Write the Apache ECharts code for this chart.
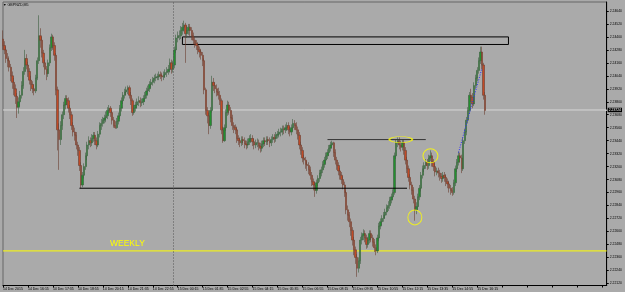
<!DOCTYPE html>
<html>
<head>
<meta charset="utf-8">
<script src="https://cdn.jsdelivr.net/npm/echarts@6/dist/echarts.min.js"></script>
<style>
  html, body { margin: 0; padding: 0; background: #aaaaaa; }
  #chart { width: 625px; height: 292px; }
</style>
</head>
<body>
<div id="chart"></div>
<script>
// GBPNZD M5, 14 Dec 2015 14:55 .. 15 Dec 16:40, rows are [open, close, low, high]
const candles = [
  [2.2438,2.2432,2.2428,2.2446],[2.2432,2.2428,2.2424,2.2436],[2.2428,2.2420,2.2416,2.2431],[2.2420,2.2418,2.2412,2.2425],
  [2.2418,2.2412,2.2408,2.2422],[2.2412,2.2404,2.2399,2.2415],[2.2404,2.2398,2.2392,2.2408],[2.2398,2.2392,2.2386,2.2402],
  [2.2392,2.2385,2.2378,2.2396],[2.2385,2.2375,2.2365,2.2388],[2.2375,2.2380,2.2369,2.2384],[2.2380,2.2386,2.2376,2.2390],
  [2.2386,2.2395,2.2383,2.2399],[2.2395,2.2408,2.2392,2.2412],[2.2408,2.2420,2.2405,2.2428],[2.2420,2.2414,2.2410,2.2424],
  [2.2414,2.2408,2.2403,2.2417],[2.2408,2.2400,2.2396,2.2411],[2.2400,2.2396,2.2390,2.2404],[2.2396,2.2392,2.2388,2.2399],
  [2.2392,2.2390,2.2386,2.2396],[2.2390,2.2402,2.2388,2.2405],[2.2402,2.2418,2.2400,2.2421],[2.2418,2.2441,2.2415,2.2460],
  [2.2441,2.2437,2.2430,2.2448],[2.2437,2.2425,2.2421,2.2440],[2.2425,2.2416,2.2412,2.2428],[2.2416,2.2410,2.2405,2.2419],
  [2.2410,2.2406,2.2400,2.2413],[2.2406,2.2416,2.2403,2.2419],[2.2416,2.2430,2.2413,2.2433],[2.2430,2.2440,2.2427,2.2443],
  [2.2440,2.2432,2.2428,2.2442],[2.2432,2.2423,2.2418,2.2435],[2.2423,2.2391,2.2386,2.2425],[2.2391,2.2354,2.2335,2.2394],
  [2.2354,2.2345,2.2317,2.2360],[2.2345,2.2358,2.2340,2.2362],[2.2358,2.2368,2.2354,2.2371],[2.2368,2.2377,2.2364,2.2380],
  [2.2377,2.2383,2.2373,2.2386],[2.2383,2.2381,2.2377,2.2386],[2.2381,2.2374,2.2370,2.2384],[2.2374,2.2368,2.2364,2.2377],
  [2.2368,2.2358,2.2354,2.2371],[2.2358,2.2352,2.2348,2.2361],[2.2352,2.2349,2.2344,2.2356],[2.2349,2.2340,2.2336,2.2352],
  [2.2340,2.2335,2.2330,2.2343],[2.2335,2.2321,2.2316,2.2338],[2.2321,2.2303,2.2300,2.2324],[2.2303,2.2312,2.2301,2.2315],
  [2.2312,2.2320,2.2309,2.2323],[2.2320,2.2330,2.2317,2.2333],[2.2330,2.2340,2.2326,2.2343],[2.2340,2.2344,2.2336,2.2348],
  [2.2344,2.2342,2.2338,2.2347],[2.2342,2.2346,2.2339,2.2350],[2.2346,2.2349,2.2343,2.2352],[2.2349,2.2344,2.2340,2.2352],
  [2.2344,2.2340,2.2336,2.2347],[2.2340,2.2350,2.2338,2.2353],[2.2350,2.2358,2.2347,2.2361],[2.2358,2.2360,2.2354,2.2364],
  [2.2360,2.2363,2.2357,2.2366],[2.2363,2.2365,2.2360,2.2368],[2.2365,2.2367,2.2361,2.2371],[2.2367,2.2372,2.2364,2.2375],
  [2.2372,2.2374,2.2369,2.2377],[2.2374,2.2370,2.2366,2.2376],[2.2370,2.2363,2.2359,2.2372],[2.2363,2.2358,2.2356,2.2366],
  [2.2358,2.2356,2.2355,2.2362],[2.2356,2.2362,2.2355,2.2365],[2.2362,2.2367,2.2359,2.2370],[2.2367,2.2374,2.2364,2.2377],
  [2.2374,2.2381,2.2371,2.2384],[2.2381,2.2386,2.2378,2.2389],[2.2386,2.2389,2.2383,2.2392],[2.2389,2.2391,2.2386,2.2394],
  [2.2391,2.2393,2.2387,2.2395],[2.2393,2.2386,2.2383,2.2395],[2.2386,2.2381,2.2377,2.2389],[2.2381,2.2370,2.2367,2.2383],
  [2.2370,2.2374,2.2368,2.2377],[2.2374,2.2377,2.2371,2.2380],[2.2377,2.2380,2.2374,2.2383],[2.2380,2.2381,2.2376,2.2385],
  [2.2381,2.2379,2.2375,2.2384],[2.2379,2.2380,2.2376,2.2383],[2.2380,2.2383,2.2377,2.2386],[2.2383,2.2386,2.2380,2.2389],
  [2.2386,2.2390,2.2383,2.2393],[2.2390,2.2392,2.2387,2.2395],[2.2392,2.2396,2.2389,2.2399],[2.2396,2.2398,2.2393,2.2401],
  [2.2398,2.2400,2.2395,2.2403],[2.2400,2.2402,2.2397,2.2405],[2.2402,2.2403,2.2399,2.2406],[2.2403,2.2403,2.2400,2.2406],
  [2.2403,2.2405,2.2400,2.2408],[2.2405,2.2404,2.2401,2.2408],[2.2404,2.2403,2.2399,2.2407],[2.2403,2.2405,2.2400,2.2408],
  [2.2405,2.2407,2.2402,2.2410],[2.2407,2.2408,2.2403,2.2412],[2.2408,2.2410,2.2405,2.2414],[2.2410,2.2416,2.2407,2.2420],
  [2.2416,2.2410,2.2406,2.2419],[2.2410,2.2414,2.2407,2.2418],[2.2414,2.2428,2.2411,2.2431],[2.2428,2.2439,2.2425,2.2442],
  [2.2439,2.2441,2.2435,2.2445],[2.2441,2.2441,2.2437,2.2446],[2.2441,2.2446,2.2438,2.2450],[2.2446,2.2449,2.2442,2.2453],
  [2.2449,2.2451,2.2445,2.2455],[2.2451,2.2443,2.2416,2.2453],[2.2443,2.2446,2.2439,2.2450],[2.2446,2.2449,2.2442,2.2452],
  [2.2449,2.2446,2.2441,2.2452],[2.2446,2.2441,2.2437,2.2449],[2.2441,2.2437,2.2433,2.2444],[2.2437,2.2434,2.2430,2.2440],
  [2.2434,2.2432,2.2428,2.2437],[2.2432,2.2428,2.2424,2.2435],[2.2428,2.2426,2.2421,2.2431],[2.2426,2.2423,2.2419,2.2429],
  [2.2423,2.2418,2.2413,2.2426],[2.2418,2.2391,2.2387,2.2420],[2.2391,2.2372,2.2368,2.2393],[2.2372,2.2367,2.2360,2.2375],
  [2.2367,2.2358,2.2350,2.2370],[2.2358,2.2372,2.2355,2.2375],[2.2372,2.2398,2.2370,2.2404],[2.2398,2.2395,2.2390,2.2402],
  [2.2395,2.2392,2.2388,2.2398],[2.2392,2.2389,2.2385,2.2396],[2.2389,2.2386,2.2382,2.2393],[2.2386,2.2381,2.2377,2.2390],
  [2.2381,2.2354,2.2350,2.2383],[2.2354,2.2344,2.2342,2.2357],[2.2344,2.2356,2.2343,2.2359],[2.2356,2.2370,2.2353,2.2373],
  [2.2370,2.2377,2.2367,2.2381],[2.2377,2.2372,2.2368,2.2380],[2.2372,2.2365,2.2361,2.2375],[2.2365,2.2358,2.2354,2.2368],
  [2.2358,2.2356,2.2351,2.2361],[2.2356,2.2354,2.2350,2.2359],[2.2354,2.2346,2.2342,2.2357],[2.2346,2.2344,2.2340,2.2349],
  [2.2344,2.2342,2.2338,2.2347],[2.2342,2.2345,2.2339,2.2348],[2.2345,2.2344,2.2340,2.2348],[2.2344,2.2341,2.2337,2.2347],
  [2.2341,2.2340,2.2336,2.2344],[2.2340,2.2343,2.2337,2.2346],[2.2343,2.2346,2.2340,2.2349],[2.2346,2.2346,2.2342,2.2350],
  [2.2346,2.2343,2.2339,2.2349],[2.2343,2.2340,2.2336,2.2346],[2.2340,2.2342,2.2337,2.2345],[2.2342,2.2342,2.2338,2.2346],
  [2.2342,2.2339,2.2335,2.2345],[2.2339,2.2337,2.2333,2.2342],[2.2337,2.2341,2.2334,2.2344],[2.2341,2.2344,2.2338,2.2347],
  [2.2344,2.2343,2.2339,2.2347],[2.2343,2.2345,2.2340,2.2348],[2.2345,2.2344,2.2340,2.2348],[2.2344,2.2342,2.2338,2.2347],
  [2.2342,2.2345,2.2339,2.2348],[2.2345,2.2347,2.2342,2.2350],[2.2347,2.2346,2.2342,2.2350],[2.2346,2.2349,2.2343,2.2352],
  [2.2349,2.2350,2.2346,2.2353],[2.2350,2.2352,2.2347,2.2355],[2.2352,2.2352,2.2348,2.2356],[2.2352,2.2355,2.2349,2.2358],
  [2.2355,2.2354,2.2350,2.2358],[2.2354,2.2356,2.2351,2.2359],[2.2356,2.2358,2.2353,2.2361],[2.2358,2.2354,2.2350,2.2361],
  [2.2354,2.2352,2.2348,2.2357],[2.2352,2.2356,2.2349,2.2359],[2.2356,2.2360,2.2353,2.2364],[2.2360,2.2358,2.2354,2.2363],
  [2.2358,2.2354,2.2350,2.2361],[2.2354,2.2349,2.2345,2.2357],[2.2349,2.2340,2.2336,2.2352],[2.2340,2.2335,2.2331,2.2343],
  [2.2335,2.2328,2.2324,2.2338],[2.2328,2.2326,2.2322,2.2331],[2.2326,2.2322,2.2318,2.2329],[2.2322,2.2321,2.2316,2.2325],
  [2.2321,2.2317,2.2313,2.2324],[2.2317,2.2312,2.2308,2.2320],[2.2312,2.2306,2.2302,2.2315],[2.2306,2.2303,2.2298,2.2309],
  [2.2303,2.2298,2.2292,2.2306],[2.2298,2.2305,2.2295,2.2308],[2.2305,2.2309,2.2302,2.2312],[2.2309,2.2314,2.2306,2.2317],
  [2.2314,2.2317,2.2311,2.2320],[2.2317,2.2322,2.2314,2.2325],[2.2322,2.2326,2.2319,2.2329],[2.2326,2.2330,2.2323,2.2333],
  [2.2330,2.2333,2.2327,2.2336],[2.2333,2.2337,2.2330,2.2340],[2.2337,2.2340,2.2334,2.2343],[2.2340,2.2342,2.2337,2.2344],
  [2.2342,2.2333,2.2329,2.2343],[2.2333,2.2326,2.2322,2.2336],[2.2326,2.2321,2.2317,2.2329],[2.2321,2.2316,2.2312,2.2324],
  [2.2316,2.2312,2.2308,2.2319],[2.2312,2.2308,2.2304,2.2315],[2.2308,2.2303,2.2299,2.2311],[2.2303,2.2296,2.2292,2.2306],
  [2.2296,2.2280,2.2276,2.2298],[2.2280,2.2275,2.2270,2.2284],[2.2275,2.2269,2.2264,2.2278],[2.2269,2.2261,2.2256,2.2272],
  [2.2261,2.2252,2.2247,2.2264],[2.2252,2.2243,2.2238,2.2255],[2.2243,2.2236,2.2230,2.2246],[2.2236,2.2226,2.2218,2.2239],
  [2.2226,2.2233,2.2222,2.2236],[2.2233,2.2252,2.2230,2.2255],[2.2252,2.2256,2.2248,2.2259],[2.2256,2.2258,2.2252,2.2262],
  [2.2258,2.2254,2.2250,2.2261],[2.2254,2.2248,2.2244,2.2257],[2.2248,2.2252,2.2245,2.2255],[2.2252,2.2258,2.2249,2.2261],
  [2.2258,2.2254,2.2250,2.2261],[2.2254,2.2250,2.2246,2.2257],[2.2250,2.2245,2.2241,2.2253],[2.2245,2.2242,2.2238,2.2248],
  [2.2242,2.2254,2.2240,2.2257],[2.2254,2.2265,2.2251,2.2268],[2.2265,2.2269,2.2262,2.2272],[2.2269,2.2272,2.2266,2.2275],
  [2.2272,2.2275,2.2269,2.2278],[2.2275,2.2278,2.2272,2.2281],[2.2278,2.2282,2.2275,2.2285],[2.2282,2.2284,2.2279,2.2288],
  [2.2284,2.2289,2.2281,2.2292],[2.2289,2.2292,2.2286,2.2295],[2.2292,2.2296,2.2289,2.2299],[2.2296,2.2330,2.2294,2.2333],
  [2.2330,2.2342,2.2327,2.2345],[2.2342,2.2344,2.2338,2.2347],[2.2344,2.2340,2.2336,2.2347],[2.2340,2.2338,2.2334,2.2344],
  [2.2338,2.2342,2.2335,2.2345],[2.2342,2.2335,2.2331,2.2345],[2.2335,2.2326,2.2322,2.2338],[2.2326,2.2318,2.2314,2.2329],
  [2.2318,2.2310,2.2306,2.2321],[2.2310,2.2303,2.2299,2.2313],[2.2303,2.2298,2.2294,2.2306],[2.2298,2.2290,2.2286,2.2301],
  [2.2290,2.2280,2.2270,2.2293],[2.2280,2.2283,2.2276,2.2287],[2.2283,2.2292,2.2280,2.2295],[2.2292,2.2300,2.2289,2.2303],
  [2.2300,2.2312,2.2297,2.2315],[2.2312,2.2318,2.2309,2.2321],[2.2318,2.2321,2.2315,2.2324],[2.2321,2.2324,2.2318,2.2327],
  [2.2324,2.2321,2.2317,2.2327],[2.2321,2.2328,2.2318,2.2331],[2.2328,2.2330,2.2325,2.2335],[2.2330,2.2324,2.2320,2.2333],
  [2.2324,2.2320,2.2316,2.2327],[2.2320,2.2315,2.2311,2.2323],[2.2315,2.2316,2.2312,2.2319],[2.2316,2.2314,2.2310,2.2319],
  [2.2314,2.2311,2.2307,2.2317],[2.2311,2.2309,2.2305,2.2314],[2.2309,2.2312,2.2306,2.2315],[2.2312,2.2310,2.2306,2.2315],
  [2.2310,2.2306,2.2302,2.2313],[2.2306,2.2304,2.2300,2.2309],[2.2304,2.2300,2.2296,2.2307],[2.2300,2.2298,2.2294,2.2303],
  [2.2298,2.2296,2.2293,2.2301],[2.2296,2.2305,2.2294,2.2308],[2.2305,2.2318,2.2302,2.2321],[2.2318,2.2324,2.2315,2.2327],
  [2.2324,2.2330,2.2321,2.2334],[2.2330,2.2328,2.2324,2.2333],[2.2328,2.2318,2.2314,2.2331],[2.2318,2.2344,2.2316,2.2347],
  [2.2344,2.2352,2.2341,2.2355],[2.2352,2.2363,2.2349,2.2366],[2.2363,2.2372,2.2360,2.2375],[2.2372,2.2386,2.2369,2.2389],
  [2.2386,2.2384,2.2380,2.2392],[2.2384,2.2378,2.2374,2.2388],[2.2378,2.2395,2.2376,2.2398],[2.2395,2.2402,2.2392,2.2405],
  [2.2402,2.2409,2.2399,2.2412],[2.2409,2.2418,2.2406,2.2421],[2.2418,2.2426,2.2415,2.2431],[2.2426,2.2414,2.2410,2.2431],
  [2.2414,2.2386,2.2382,2.2416],[2.2386,2.2372,2.2368,2.2389]
];

// labels under the chart, one every 16 bars (80 minutes)
const timeLabels = [
  '14 Dec 2015', '14 Dec 16:15', '14 Dec 17:35', '14 Dec 18:55', '14 Dec 20:15',
  '14 Dec 21:35', '14 Dec 22:55', '15 Dec 00:15', '15 Dec 01:35', '15 Dec 02:55',
  '15 Dec 04:15', '15 Dec 05:35', '15 Dec 06:55', '15 Dec 08:15', '15 Dec 09:35',
  '15 Dec 10:55', '15 Dec 12:15', '15 Dec 13:35', '15 Dec 14:55', '15 Dec 16:15'
];

const yTicks = [
  2.2212, 2.2224, 2.2236, 2.2248, 2.2260, 2.2272, 2.2284, 2.2296, 2.2308, 2.2320, 2.2332,
  2.2344, 2.2356, 2.2368, 2.2380, 2.2392, 2.2404, 2.2416, 2.2428, 2.2440, 2.2452, 2.2464
];

const bidPrice = 2.23724;
const weeklyLevel = 2.2242;
const supportLevel = 2.2300;      // black line under the lows
const resistLevel = 2.2345;       // grey line over the two tops
const zoneTop = 2.2440, zoneBottom = 2.2433;
const daySeparator = 109;         // 15 Dec 00:00
const ellipses = [[255, 2.2345, 23, 6], [274, 2.2330, 15, 14], [264, 2.2273, 14, 15]];
const blueLine = [[292, 2.2333], [307, 2.2411]];

// 310 bars plus empty space on the right (chart shift)
const totalSlots = 388;
const lastSlot = totalSlots - 1;
const cats = [];
const t0 = new Date(2015, 11, 14, 14, 55).getTime();
for (let i = 0; i < totalSlots; i++) {
  const d = new Date(t0 + i * 300000);
  cats.push(d.getDate() + ' ' + d.getHours() + ':' + d.getMinutes());
}

const font = 'Liberation Sans';
const chart = echarts.init(document.getElementById('chart'), null, {renderer: 'canvas'});

function levelLine(points, color, type, z) {
  return {
    type: 'line',
    data: points,
    silent: true,
    symbol: 'none',
    z: z || 3,
    lineStyle: {color: color, width: 1, type: type || 'solid'}
  };
}

chart.setOption({
  backgroundColor: '#aaaaaa',
  animation: false,
  grid: {
    left: 1, right: 17, top: 2, bottom: 6.5,
    show: true, borderColor: '#666', borderWidth: 1, backgroundColor: '#aaaaaa'
  },
  xAxis: {
    type: 'category',
    data: cats,
    boundaryGap: false,
    axisLine: {lineStyle: {color: '#000', width: 1}},
    axisTick: {interval: 15, length: 2, lineStyle: {color: '#000'}},
    axisLabel: {
      interval: 15,
      align: 'left',
      margin: 1.5,
      fontSize: 3.5,
      fontFamily: font,
      color: '#000',
      formatter: (v, i) => timeLabels[i / 16] || ''
    },
    splitLine: {show: false}
  },
  yAxis: {
    type: 'value',
    position: 'right',
    min: 2.22100,
    max: 2.24723,
    axisLine: {show: true, lineStyle: {color: '#000', width: 1}},
    axisTick: {show: true, customValues: yTicks, length: 2, lineStyle: {color: '#000'}},
    axisLabel: {
      customValues: yTicks,
      margin: 3,
      fontSize: 3.4,
      fontFamily: font,
      color: '#000',
      formatter: v => v.toFixed(5)
    },
    splitLine: {show: false}
  },
  graphic: [
    {type: 'text', left: 3, top: 2.5, style: {text: '\u25BC GBPNZD,M5', font: '3.6px ' + font, fill: '#000'}},
    {type: 'text', left: 110, top: 239, style: {text: 'WEEKLY', font: '8.5px ' + font, fill: '#ffff00'}}
  ],
  series: [
    levelLine([[0, weeklyLevel], [lastSlot, weeklyLevel]], '#ffff00', 'solid', 1),
    levelLine([[0, bidPrice], [lastSlot, bidPrice]], '#d6d6d6', 'solid', 1),
    {
      type: 'candlestick',
      data: candles,
      barWidth: 1.8,
      z: 2,
      itemStyle: {
        color: '#23902f', color0: '#c24a26',
        borderColor: '#3c5e40', borderColor0: '#6a3e30', borderWidth: 0.6
      }
    },
    levelLine([[49, supportLevel], [259, supportLevel]], '#000'),
    levelLine([[208, resistLevel], [271, resistLevel]], '#333'),
    levelLine(blueLine, '#2a2aff', [1, 1.5]),
    {
      // trader's ellipses, day separator, zone and the bid price box
      type: 'scatter',
      silent: true,
      z: 4,
      data: ellipses.map(e => ({value: [e[0], e[1]], symbolSize: [e[2], e[3]]})),
      symbol: 'circle',
      itemStyle: {color: 'rgba(0,0,0,0)', borderColor: '#ffff00', borderWidth: 1},
      markLine: {
        silent: true,
        symbol: ['none', 'none'],
        data: [
          [{coord: [lastSlot - 1, bidPrice], lineStyle: {color: '#d6d6d6', width: 1, type: 'solid'},
            label: {show: true, position: 'end', formatter: bidPrice.toFixed(5), backgroundColor: '#000',
                    color: '#fff', fontSize: 3.4, fontFamily: font, padding: [1, 1, 0.5, 1], distance: 1}},
           {coord: [lastSlot, bidPrice]}]
        ]
      },
      markArea: {
        silent: true,
        itemStyle: {color: 'rgba(0,0,0,0)', borderColor: '#000', borderWidth: 1},
        data: [[{coord: [115, zoneTop]}, {coord: [324, zoneBottom]}]]
      }
    },
    {
      type: 'scatter',
      data: [],
      silent: true,
      markLine: {
        silent: true,
        symbol: ['none', 'none'],
        label: {show: false},
        lineStyle: {color: '#555', width: 1, type: [1, 2]},
        data: [{xAxis: daySeparator}]
      }
    }
  ]
});
</script>
</body>
</html>
